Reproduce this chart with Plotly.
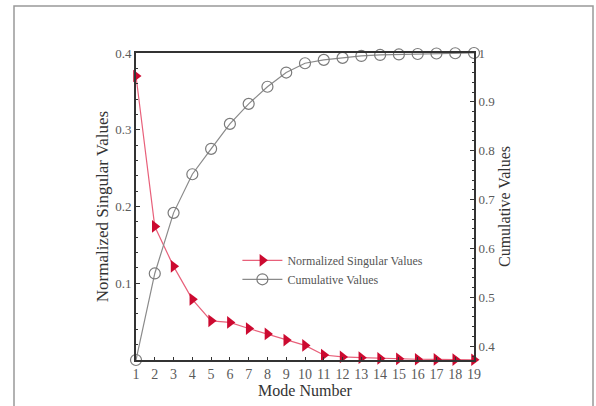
import plotly.graph_objects as go

modes = list(range(1, 20))
singular = [0.370, 0.174, 0.122, 0.079, 0.051, 0.049, 0.041, 0.034, 0.026, 0.019,
            0.0065, 0.004, 0.003, 0.002, 0.0015, 0.001, 0.0008, 0.0005, 0.0003]
cumulative = [0.372, 0.549, 0.673, 0.752, 0.804, 0.855, 0.896, 0.931, 0.960, 0.979,
              0.986, 0.990, 0.994, 0.996, 0.997, 0.998, 0.999, 0.9995, 1.0]
x_ticks = [str(m) for m in modes]

FONT = "Liberation Serif"
AX = "#333333"
TICKC = "#5a5a5a"

fig = go.Figure()
fig.add_trace(go.Scatter(
    x=modes, y=singular, name="Normalized Singular Values",
    mode="lines+markers", cliponaxis=False,
    line=dict(color="#e8607a", width=1.2),
    marker=dict(symbol="triangle-right", size=11, color="#cc0a30",
                line=dict(width=0)),
    yaxis="y"))
fig.add_trace(go.Scatter(
    x=modes, y=cumulative, name="Cumulative Values",
    mode="lines+markers", cliponaxis=False,
    line=dict(color="#8a8a8a", width=1.2),
    marker=dict(symbol="circle-open", size=11, color="#7a7a7a",
                line=dict(width=1.2, color="#7a7a7a")),
    yaxis="y2"))

fig.update_layout(
    width=596, height=406,
    margin=dict(l=136, r=122, t=53, b=46),
    paper_bgcolor="white", plot_bgcolor="white",
    font=dict(family=FONT, color="#333333"),
    showlegend=True,
    legend=dict(x=0.30, y=0.372, xanchor="left", yanchor="top",
                bgcolor="rgba(0,0,0,0)", font=dict(size=12, color="#555555"),
                tracegroupgap=0, itemwidth=40),
    xaxis=dict(range=[1, 19], tickmode="array", tickvals=modes, ticktext=x_ticks,
               showgrid=False, zeroline=False, showline=True, linecolor=AX,
               linewidth=2, mirror=True, ticks="inside", ticklen=3,
               tickcolor=AX, tickfont=dict(size=14, color=TICKC),
               title=dict(text="Mode Number", font=dict(size=16, color="#333333"),
                          standoff=0)),
    yaxis=dict(range=[0, 0.4], showgrid=False, zeroline=False,
               showline=True, linecolor=AX, linewidth=2,
               ticks="inside", ticklen=4, tickcolor=AX,
               minor=dict(dtick=0.02, ticks="inside", ticklen=2, tickcolor=AX),
               tickfont=dict(size=13, color=TICKC),
               tickvals=[0.1, 0.2, 0.3, 0.4], ticktext=["0.1", "0.2", "0.3", "0.4"],
               title=dict(text="Normalized Singular Values",
                          font=dict(size=17, color="#333333"), standoff=2)),
    yaxis2=dict(range=[0.372, 1.0], overlaying="y", side="right",
                showgrid=False, zeroline=False, showline=True, linecolor=AX,
                linewidth=2, ticks="inside", ticklen=4, tickcolor=AX,
                tickvals=[0.4, 0.5, 0.6, 0.7, 0.8, 0.9, 1.0],
                ticktext=["0.4", "0.5", "0.6", "0.7", "0.8", "0.9", "1"],
                minor=dict(dtick=0.02, tick0=0.4, ticks="inside", ticklen=2, tickcolor=AX),
                tickfont=dict(size=13, color=TICKC),
                title=dict(text="Cumulative Values",
                           font=dict(size=16, color="#333333"), standoff=4)),
    shapes=[dict(type="rect", xref="paper", yref="paper",
                 x0=(14 - 136) / 338, x1=(593 - 136) / 338,
                 y0=(360 - 412) / 307, y1=(360 - 6) / 307,
                 line=dict(color="#999999", width=1.5), fillcolor="rgba(0,0,0,0)",
                 layer="below")],
)

fig.write_html("out.html", config={"displayModeBar": False, "staticPlot": True},
               post_script="document.body.style.margin='0';")
